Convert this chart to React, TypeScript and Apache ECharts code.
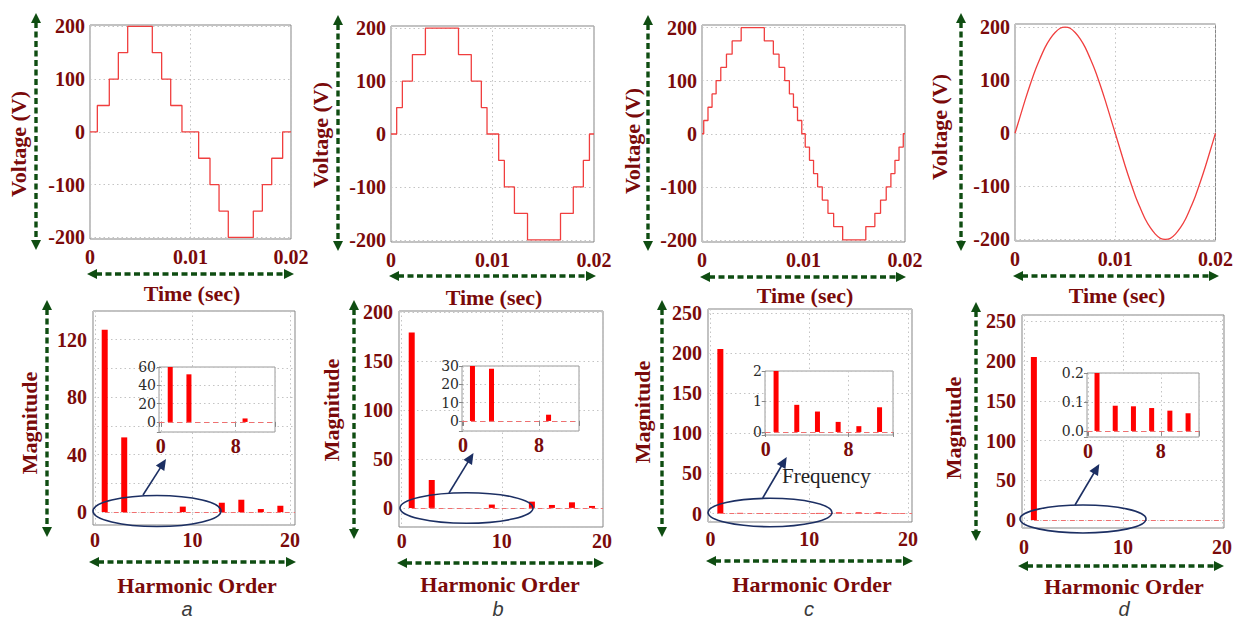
import React, { useEffect, useRef } from "react";
import * as echarts from "echarts";

// ---------------- data ----------------
// Output voltage waveforms (time in s, voltage in V)
const TIME_A = [0, 0.00073, 0.00192, 0.00282, 0.00375, 0.0062, 0.00713, 0.00803, 0.00915, 0.01081, 0.01194, 0.01284, 0.01376, 0.01625, 0.01715, 0.01808, 0.01917, 0.02];
const VOLT_A = [0, 50, 100, 150, 200, 150, 100, 50, 0, -50, -100, -150, -200, -150, -100, -50, 0, 0];

const TIME_B = [0, 0.00056, 0.00112, 0.00211, 0.00339, 0.00665, 0.00791, 0.0089, 0.00946, 0.01061, 0.01117, 0.01216, 0.01345, 0.0167, 0.01796, 0.01895, 0.01955, 0.02];
const VOLT_B = [0, 50, 100, 150, 200, 150, 100, 50, 0, -50, -100, -150, -200, -150, -100, -50, 0, 0];

const TIME_C = [0, 0.00017, 0.00059, 0.00099, 0.00139, 0.00185, 0.00241, 0.00297, 0.00386, 0.00614, 0.00703, 0.00759, 0.00815, 0.00861, 0.00901, 0.00941, 0.00983, 0.01017, 0.01059, 0.01099, 0.01139, 0.01185, 0.01241, 0.01297, 0.01386, 0.01614, 0.01703, 0.01759, 0.01815, 0.01861, 0.01901, 0.01941, 0.01983, 0.02];
const VOLT_C = [0, 25, 50, 75, 100, 125, 150, 175, 200, 175, 150, 125, 100, 75, 50, 25, 0, -25, -50, -75, -100, -125, -150, -175, -200, -175, -150, -125, -100, -75, -50, -25, 0, 0];

const TIME_D = [0, 0.0005, 0.001, 0.0015, 0.002, 0.0025, 0.003, 0.0035, 0.004, 0.0045, 0.005, 0.0055, 0.006, 0.0065, 0.007, 0.0075, 0.008, 0.0085, 0.009, 0.0095, 0.01, 0.0105, 0.011, 0.0115, 0.012, 0.0125, 0.013, 0.0135, 0.014, 0.0145, 0.015, 0.0155, 0.016, 0.0165, 0.017, 0.0175, 0.018, 0.0185, 0.019, 0.0195, 0.02];
const VOLT_D = [0, 31, 62, 91, 118, 141, 162, 178, 190, 198, 200, 198, 190, 178, 162, 141, 118, 91, 62, 31, 0, -31, -62, -91, -118, -141, -162, -178, -190, -198, -200, -198, -190, -178, -162, -141, -118, -91, -62, -31, 0];

// Harmonic spectra
const HARMONICS = [1, 3, 5, 7, 9, 11, 13, 15, 17, 19];
const MAG_A = [127, 52, 0, 0, 3.8, 0, 6.5, 8.6, 2.1, 4.4];
const MAG_B = [179, 28.5, 0, 0, 3.4, 0, 6.4, 3, 5.7, 2];
const MAG_C = [205, 0.89, 0.67, 0.33, 0.19, 0.81, 1.5, 1.5, 1.5, 0.5];
const MAG_D = [205, 0.087, 0.085, 0.079, 0.07, 0.061, 0.05, 0.045, 0.04, 0.035];

const PANEL_LETTERS = ["a", "b", "c", "d"];
const TOP_Y_TITLE = "Voltage (V)";
const TOP_X_TITLE = "Time (sec)";
const BOT_Y_TITLE = "Magnitude";
const BOT_X_TITLE = "Harmonic Order";
const INSET_NOTE = "Frequency";

// ---------------- styling / layout ----------------
const DARK_RED = "#7a0a0a";
const GREEN = "#0f4d12";
const NAVY = "#1c2f63";
const SERIF = '"Liberation Serif", "Times New Roman", serif';
const GRID_LINE = { type: [1.5, 3] as any, color: "#c4c4c4", width: 1 };

const TOP_BOXES = [
  { left: 90, top: 25, width: 201, height: 214, y: [-203, 202.5] },
  { left: 391, top: 26, width: 203, height: 216, y: [-204, 204] },
  { left: 702, top: 25, width: 203, height: 217, y: [-204, 205] },
  { left: 1015, top: 24, width: 203, height: 217, y: [-203, 206] },
];
const BOT_BOXES = [
  { left: 93, top: 311, width: 202, height: 214, x: [-0.2, 20.5], y: [-9, 140], grid: 20, label: 40, lm: 5 },
  { left: 399, top: 311, width: 204, height: 216, x: [-0.27, 20.1], y: [-19.5, 201], grid: 50, label: 50, lm: 4 },
  { left: 708, top: 309, width: 204, height: 213, x: [-0.25, 20.4], y: [-10.5, 255], grid: 50, label: 50, lm: 7 },
  { left: 1022, top: 315, width: 202, height: 213, x: [-0.2, 20.2], y: [-10, 258], grid: 50, label: 50, lm: 9 },
];
const INSET_BOXES = [
  { left: 159, top: 367, width: 116, height: 65, x: [-0.2, 12.2], y: [-11, 60], step: 20, dec: 0 },
  { left: 462, top: 366, width: 117, height: 65, x: [-0.1, 12.2], y: [-5.5, 30], step: 10, dec: 0 },
  { left: 765, top: 371, width: 128, height: 64, x: [-0.07, 12.3], y: [-0.1, 2], step: 1, dec: 0 },
  { left: 1087, top: 373, width: 112, height: 64, x: [-0.1, 12.2], y: [-0.021, 0.2], step: 0.1, dec: 1 },
];
const TOP_TITLES = [
  { vx: 18, vy: 144, tx: 192, ty: 293 },
  { vx: 320, vy: 135, tx: 494, ty: 297 },
  { vx: 632, vy: 141, tx: 805, ty: 295 },
  { vx: 939, vy: 127, tx: 1117, ty: 295 },
];
const BOT_TITLES = [
  { vx: 29, vy: 423, tx: 197, ty: 585, lx: 187 },
  { vx: 331, vy: 410, tx: 500, ty: 584, lx: 498 },
  { vx: 642, vy: 412, tx: 812, ty: 584, lx: 809 },
  { vx: 953, vy: 428, tx: 1124, ty: 586, lx: 1124 },
];
const TOP_ARROWS = [
  { vx: 36, vy1: 13, vy2: 250, hy: 274, hx1: 87, hx2: 294 },
  { vx: 338, vy1: 15, vy2: 251, hy: 276, hx1: 389, hx2: 596 },
  { vx: 648, vy1: 15, vy2: 251, hy: 277, hx1: 700, hx2: 906 },
  { vx: 961, vy1: 13, vy2: 251, hy: 276, hx1: 1013, hx2: 1219 },
];
const BOT_ARROWS = [
  { vx: 47, vy1: 300, vy2: 537, hy: 562, hx1: 89, hx2: 296 },
  { vx: 354, vy1: 300, vy2: 539, hy: 563, hx1: 397, hx2: 604 },
  { vx: 662, vy1: 300, vy2: 537, hy: 561, hx1: 706, hx2: 913 },
  { vx: 976, vy1: 302, vy2: 541, hy: 566, hx1: 1018, hx2: 1224 },
];
const ELLIPSES = [
  { cx: 157, cy: 511, rx: 64, ry: 15.5, ax1: 143, ay1: 495, ax2: 166, ay2: 459 },
  { cx: 466.5, cy: 508, rx: 66.5, ry: 15.3, ax1: 449, ay1: 493, ax2: 473.5, ay2: 453 },
  { cx: 770, cy: 512.5, rx: 62, ry: 14.2, ax1: 762.7, ay1: 498, ax2: 786.7, ay2: 457 },
  { cx: 1083, cy: 519, rx: 63, ry: 14, ax1: 1075, ay1: 505, ax2: 1099.3, ay2: 464 },
];

const isMult = (v: number, s: number) => Math.abs(v / s - Math.round(v / s)) < 1e-6;

function head(tx: number, ty: number, fx: number, fy: number, len: number, half: number, color: string) {
  const dx = tx - fx, dy = ty - fy;
  const d = Math.hypot(dx, dy);
  const ux = dx / d, uy = dy / d;
  const bx = tx - ux * len, by = ty - uy * len;
  return {
    type: "polygon",
    z: 100,
    silent: true,
    shape: { points: [[tx, ty], [bx - uy * half, by + ux * half], [bx + uy * half, by - ux * half]] },
    style: { fill: color },
  };
}

function greenArrow(x1: number, y1: number, x2: number, y2: number) {
  const len = 10, half = 5;
  const dx = x2 - x1, dy = y2 - y1;
  const d = Math.hypot(dx, dy);
  const ux = dx / d, uy = dy / d;
  return [
    {
      type: "line",
      z: 100,
      silent: true,
      shape: { x1: x1 + ux * (len - 1), y1: y1 + uy * (len - 1), x2: x2 - ux * (len - 1), y2: y2 - uy * (len - 1) },
      style: { stroke: GREEN, lineWidth: 3.4, lineDash: [6, 3.5] },
    },
    head(x1, y1, x2, y2, len, half, GREEN),
    head(x2, y2, x1, y1, len, half, GREEN),
  ];
}

function text(t: string, x: number, y: number, font: string, fill: string, rotation = 0, align = "center", va = "middle") {
  return {
    type: "text",
    z: 100,
    silent: true,
    x,
    y,
    rotation,
    style: { text: t, font, fill, align, verticalAlign: va, textAlign: align, textVerticalAlign: va },
  };
}

function buildOption() {
  const grids: any[] = [];
  const xAxes: any[] = [];
  const yAxes: any[] = [];
  const series: any[] = [];
  const graphic: any[] = [];

  const tickLabel = (margin: number) => ({
    color: DARK_RED,
    fontFamily: SERIF,
    fontWeight: "bold",
    fontSize: 20,
    margin,
    showMinLabel: true,
    showMaxLabel: true,
  });

  // ---- top voltage panels ----
  const waves = [
    [TIME_A, VOLT_A],
    [TIME_B, VOLT_B],
    [TIME_C, VOLT_C],
    [TIME_D, VOLT_D],
  ];
  TOP_BOXES.forEach((b, i) => {
    const gi = grids.length;
    grids.push({ left: b.left, top: b.top, width: b.width, height: b.height, show: true, backgroundColor: "#fff", borderColor: "#858585", borderWidth: 1, z: 0 });
    xAxes.push({
      type: "value", gridIndex: gi, min: 0, max: 0.02, interval: 0.01, z: 1,
      axisLine: { show: false }, axisTick: { show: false },
      axisLabel: { ...tickLabel(8), formatter: (v: number) => (v === 0 ? "0" : String(+v.toFixed(3))) },
      splitLine: { show: true, lineStyle: GRID_LINE },
    });
    yAxes.push({
      type: "value", gridIndex: gi, min: b.y[0], max: b.y[1], minInterval: 100, maxInterval: 100, z: 1,
      axisLine: { show: false }, axisTick: { show: false },
      axisLabel: { ...tickLabel(5), formatter: (v: number) => (isMult(v, 100) ? String(Math.round(v)) : "") },
      splitLine: { show: true, lineStyle: GRID_LINE },
    });
    const [t, v] = waves[i];
    series.push({
      type: "line", xAxisIndex: gi, yAxisIndex: gi,
      data: t.map((x, k) => [x, v[k]]),
      step: i < 3 ? "end" : undefined,
      smooth: i === 3 ? 0.3 : false,
      showSymbol: false, symbol: "none", clip: true,
      lineStyle: { color: "#f03e3e", width: 1.3 },
    });
  });

  // ---- bottom spectrum panels ----
  const mags = [MAG_A, MAG_B, MAG_C, MAG_D];
  BOT_BOXES.forEach((b, i) => {
    const gi = grids.length;
    grids.push({ left: b.left, top: b.top, width: b.width, height: b.height, show: true, backgroundColor: "#fff", borderColor: "#858585", borderWidth: 1, z: 0 });
    xAxes.push({
      type: "value", gridIndex: gi, min: b.x[0], max: b.x[1], minInterval: 10, maxInterval: 10, z: 1,
      axisLine: { show: false }, axisTick: { show: false },
      axisLabel: { ...tickLabel(b.lm), formatter: (v: number) => (isMult(v, 10) ? String(Math.round(v)) : "") },
      splitLine: { show: true, lineStyle: GRID_LINE },
    });
    yAxes.push({
      type: "value", gridIndex: gi, min: b.y[0], max: b.y[1], minInterval: b.grid, maxInterval: b.grid, z: 1,
      axisLine: { show: false }, axisTick: { show: false },
      axisLabel: { ...tickLabel(6), formatter: (v: number) => (isMult(v, b.label) && v >= 0 ? String(Math.round(v)) : "") },
      splitLine: { show: true, lineStyle: GRID_LINE },
    });
    series.push({
      type: "bar", xAxisIndex: gi, yAxisIndex: gi, barWidth: 6, clip: true, z: 2,
      data: HARMONICS.map((h, k) => [h, mags[i][k]]),
      itemStyle: { color: "#ff0000" },
      markLine: {
        silent: true, symbol: ["none", "none"], label: { show: false }, z: 3,
        lineStyle: { color: "#f07070", type: [5, 4], width: 1 },
        emphasis: { disabled: true },
        data: [[{ coord: [HARMONICS[0], 0] }, { coord: [b.x[1], 0] }]],
      },
    });
  });

  // ---- insets (zoom of the low harmonics) ----
  INSET_BOXES.forEach((b, i) => {
    const gi = grids.length;
    grids.push({ left: b.left, top: b.top, width: b.width, height: b.height, show: true, backgroundColor: "#fff", borderColor: "#9a9a9a", borderWidth: 1, z: 10 });
    xAxes.push({
      type: "value", gridIndex: gi, min: b.x[0], max: b.x[1], minInterval: 8, maxInterval: 8, z: 11,
      axisLine: { show: false },
      axisTick: { show: true, length: 5, lineStyle: { color: "#888" } },
      axisLabel: { ...tickLabel(4), formatter: (v: number) => (isMult(v, 8) ? String(Math.round(v)) : "") },
      splitLine: { show: true, lineStyle: GRID_LINE },
    });
    yAxes.push({
      type: "value", gridIndex: gi, min: b.y[0], max: b.y[1], minInterval: b.step, maxInterval: b.step, z: 11,
      axisLine: { show: false },
      axisTick: { show: true, length: 4, lineStyle: { color: "#888" } },
      axisLabel: {
        color: "#2a2a2a", fontFamily: '"DejaVu Serif", serif', fontSize: 14, margin: 3,
        showMinLabel: true, showMaxLabel: true,
        formatter: (v: number) => (isMult(v, b.step) && v >= -1e-9 ? Math.abs(v).toFixed(b.dec) : ""),
      },
      splitLine: { show: true, lineStyle: GRID_LINE },
    });
    // only the harmonics that fall inside the inset's frequency window
    const inWindow = HARMONICS.map((h, k) => [h, mags[i][k]]).filter((p) => p[0] <= b.x[1]);
    series.push({
      type: "bar", xAxisIndex: gi, yAxisIndex: gi, barWidth: 5, clip: true, z: 12,
      data: inWindow,
      itemStyle: { color: "#ff0000" },
      markLine: {
        silent: true, symbol: ["none", "none"], label: { show: false }, z: 13,
        lineStyle: { color: "#f07070", type: [5, 4], width: 1 },
        emphasis: { disabled: true },
        data: [[{ coord: [b.x[0], 0] }, { coord: [b.x[1], 0] }]],
      },
    });
  });

  // ---- annotations ----
  const titleFont = `bold 22px ${SERIF}`;
  TOP_TITLES.forEach((t) => {
    graphic.push(text(TOP_Y_TITLE, t.vx, t.vy, titleFont, DARK_RED, Math.PI / 2));
    graphic.push(text(TOP_X_TITLE, t.tx, t.ty, titleFont, DARK_RED));
  });
  BOT_TITLES.forEach((t, i) => {
    graphic.push(text(BOT_Y_TITLE, t.vx, t.vy, titleFont, DARK_RED, Math.PI / 2));
    graphic.push(text(BOT_X_TITLE, t.tx, t.ty, titleFont, DARK_RED));
    graphic.push(text(PANEL_LETTERS[i], t.lx, 609, `italic 20px "Liberation Sans", Arial, sans-serif`, "#3a3a3a"));
  });
  TOP_ARROWS.concat(BOT_ARROWS).forEach((a) => {
    graphic.push(...greenArrow(a.vx, a.vy1, a.vx, a.vy2));
    graphic.push(...greenArrow(a.hx1, a.hy, a.hx2, a.hy));
  });
  ELLIPSES.forEach((e) => {
    graphic.push({ type: "ellipse", z: 100, silent: true, shape: { cx: e.cx, cy: e.cy, rx: e.rx, ry: e.ry }, style: { fill: "none", stroke: NAVY, lineWidth: 1.6 } });
    const dx = e.ax2 - e.ax1, dy = e.ay2 - e.ay1, d = Math.hypot(dx, dy);
    graphic.push({
      type: "line", z: 100, silent: true,
      shape: { x1: e.ax1, y1: e.ay1, x2: e.ax2 - (dx / d) * 9, y2: e.ay2 - (dy / d) * 9 },
      style: { stroke: NAVY, lineWidth: 1.6 },
    });
    graphic.push(head(e.ax2, e.ay2, e.ax1, e.ay1, 11, 5, NAVY));
  });
  graphic.push(text(INSET_NOTE, 782, 476, `21px ${SERIF}`, "#222", 0, "left", "middle"));

  return {
    animation: false,
    backgroundColor: "#fff",
    grid: grids,
    xAxis: xAxes,
    yAxis: yAxes,
    series,
    graphic: { elements: graphic },
  };
}

export default function App() {
  const ref = useRef<HTMLDivElement>(null);
  useEffect(() => {
    if (!ref.current) return;
    const chart = echarts.init(ref.current, null, { renderer: "svg" });
    chart.setOption(buildOption() as any);
    return () => chart.dispose();
  }, []);
  return (
    <div
      ref={ref}
      style={{ position: "fixed", left: 0, top: 0, width: 1236, height: 621, background: "#fff" }}
    />
  );
}
